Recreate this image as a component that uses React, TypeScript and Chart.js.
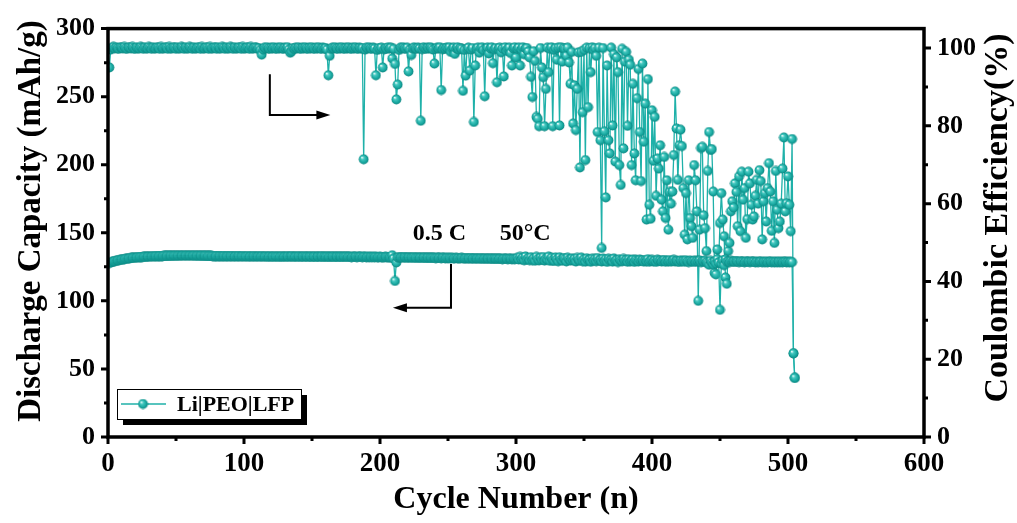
import React, { useEffect, useRef } from "react";
import { Chart, registerables } from "chart.js";

Chart.register(...registerables);

// ---------- data ----------
const capacity: number[] = [
  127.8, 128.2, 128.6, 128.9, 129.2, 129.4, 129.7, 129.9, 130.1, 130.3,
  130.5, 130.7, 130.9, 131.0, 131.2, 131.3, 131.5, 131.6, 131.7, 131.8,
  131.9, 132.0, 132.1, 132.2, 132.2, 132.3, 132.4, 132.4, 132.5, 132.5,
  132.6, 132.6, 132.7, 132.7, 132.8, 132.8, 132.8, 132.9, 132.9, 132.9,
  133.0, 133.0, 133.0, 133.1, 133.1, 133.1, 133.1, 133.2, 133.2, 133.2,
  133.2, 133.2, 133.3, 133.3, 133.3, 133.3, 133.3, 133.3, 133.3, 133.3,
  133.3, 133.3, 133.3, 133.2, 133.2, 133.2, 133.2, 133.2, 133.1, 133.1,
  133.1, 133.1, 133.0, 133.0, 133.0, 133.0, 132.9, 132.9, 132.9, 132.9,
  132.8, 132.9, 132.7, 132.8, 132.9, 132.7, 132.8, 132.8, 132.7, 132.9,
  132.7, 132.8, 132.6, 132.8, 132.7, 132.9, 132.6, 132.7, 132.8, 132.6,
  132.7, 132.6, 132.8, 132.5, 132.7, 132.6, 132.8, 132.5, 132.7, 132.6,
  132.7, 132.5, 132.8, 132.6, 132.5, 132.7, 132.6, 132.4, 132.7, 132.5,
  132.6, 132.4, 132.7, 132.5, 132.6, 132.4, 132.5, 132.7, 132.4, 132.6,
  132.5, 132.7, 132.4, 132.6, 132.8, 132.5, 132.4, 132.6, 132.5, 132.7,
  132.4, 132.5, 132.6, 132.4, 132.7, 132.5, 132.4, 132.6, 132.5, 132.3,
  132.6, 132.5, 132.3, 132.6, 132.4, 132.5, 132.7, 132.3, 132.5, 132.4,
  132.6, 132.4, 132.3, 132.5, 132.6, 132.3, 132.4, 132.5, 132.3, 132.6,
  132.4, 132.3, 132.5, 132.4, 132.6, 132.3, 132.4, 132.5, 132.2, 132.4,
  132.3, 132.5, 132.2, 132.4, 132.3, 132.5, 132.2, 132.4, 132.3, 132.1,
  132.4, 132.2, 132.3, 132.1, 132.4, 132.2, 132.3, 132.1, 132.2, 132.3,
  132.1, 132.2, 132.0, 132.3, 132.1, 132.2, 132.0, 132.1, 133.5, 131.0,
  114.6, 128.2, 131.8, 132.1, 131.9, 132.0, 131.8, 132.1, 131.9, 131.7,
  132.0, 131.8, 131.9, 131.7, 132.0, 131.8, 131.6, 131.9, 131.7, 131.8,
  131.6, 131.9, 131.7, 131.5, 131.8, 131.6, 131.7, 131.5, 131.8, 131.6,
  131.4, 131.7, 131.5, 131.6, 131.4, 131.7, 131.5, 131.3, 131.6, 131.4,
  131.5, 131.3, 131.6, 131.4, 131.2, 131.5, 131.3, 131.4, 131.2, 131.5,
  131.3, 131.1, 131.4, 131.2, 131.3, 131.1, 131.4, 131.2, 131.0, 131.3,
  131.1, 131.2, 131.0, 131.3, 131.1, 130.9, 131.2, 131.0, 131.1, 130.9,
  131.2, 131.0, 130.8, 131.1, 130.9, 131.0, 130.8, 131.1, 130.9, 130.7,
  131.0, 130.8, 130.9, 130.7, 131.0, 130.8, 130.6, 130.9, 130.7, 130.8,
  131.5, 130.4, 132.3, 130.6, 131.9, 129.8, 132.6, 130.2, 131.4, 129.9,
  132.1, 130.0, 131.3, 129.5, 132.4, 130.6, 129.7, 131.8, 130.1, 132.2,
  129.6, 131.0, 130.3, 132.5, 129.4, 131.6, 130.0, 129.3, 131.9, 130.5,
  129.1, 132.0, 130.2, 129.5, 131.4, 130.8, 129.0, 131.7, 130.3, 129.6,
  131.2, 129.8, 130.9, 128.9, 131.5, 130.1, 129.4, 131.8, 129.2, 130.6,
  128.8, 131.3, 129.9, 130.4, 128.7, 131.0, 129.5, 130.8, 129.1, 131.4,
  129.6, 130.2, 128.9, 131.1, 129.3, 130.7, 128.6, 130.9, 129.8, 130.3,
  128.8, 131.2, 129.4, 130.0, 128.5, 130.6, 129.7, 129.1, 130.8, 129.3,
  130.1, 128.7, 130.5, 129.0, 129.8, 130.4, 128.6, 130.2, 129.5, 128.9,
  130.3, 129.4, 130.0, 128.8, 129.9, 129.2, 130.6, 128.7, 129.6, 130.1,
  129.0, 129.7, 128.6, 130.2, 129.3, 129.8, 128.9, 129.5, 130.0, 128.7,
  129.6, 129.1, 129.9, 128.8, 129.4, 130.1, 128.9, 129.5, 129.2, 128.6,
  129.7, 129.0, 129.4, 128.7, 129.8, 129.1, 128.5, 129.6, 129.2, 128.8,
  129.5, 128.6, 129.3, 128.9, 129.7, 128.4, 129.2, 128.8, 129.5, 128.5,
  127.8, 126.5, 129.4, 128.0, 126.8, 129.0, 127.5, 130.6, 128.2, 93.4,
  127.4, 129.8, 126.2, 130.4, 128.6, 129.1, 128.5, 129.3, 128.8, 129.0,
  128.6, 129.2, 128.9, 128.5, 129.1, 128.7, 128.9, 128.4, 129.0, 128.6,
  128.8, 128.5, 129.0, 128.6, 128.9, 128.3, 128.8, 128.5, 128.7, 128.9,
  128.4, 128.7, 128.5, 128.8, 128.3, 128.6, 128.9, 128.4, 128.7, 128.5,
  128.6, 128.3, 128.8, 128.5, 128.7, 128.4, 128.6, 128.8, 128.3, 128.6,
  128.4, 128.7, 128.5, 61.5, 43.5,
];

const efficiency: number[] = [
  95.0, 99.6, 100.1, 100.3, 99.9, 100.2, 100.0, 99.8, 100.2, 100.1,
  99.9, 100.3, 100.0, 99.8, 100.2, 100.1, 99.9, 100.3, 100.0, 99.8,
  100.2, 100.0, 99.9, 100.3, 100.1, 99.8, 100.2, 100.0, 99.9, 100.3,
  100.1, 99.8, 100.2, 100.0, 99.9, 100.2, 100.1, 99.8, 100.3, 100.0,
  99.9, 100.2, 100.1, 99.8, 100.3, 100.0, 99.9, 100.2, 100.1, 99.8,
  100.2, 100.0, 99.9, 100.3, 100.1, 99.8, 100.2, 100.0, 99.9, 100.3,
  100.1, 99.8, 100.2, 100.0, 99.9, 100.2, 100.1, 99.8, 100.3, 100.0,
  99.9, 100.2, 100.1, 99.8, 100.3, 100.0, 99.9, 100.2, 100.1, 99.8,
  100.2, 100.0, 99.9, 100.3, 100.1, 99.8, 100.2, 100.0, 99.9, 100.3,
  100.1, 99.8, 100.2, 100.0, 99.9, 100.2, 100.1, 99.8, 100.3, 100.0,
  99.9, 100.2, 100.1, 99.8, 100.3, 100.0, 99.9, 100.2, 100.1, 99.8,
  100.0, 99.5, 98.3, 99.6, 100.1, 99.9, 100.2, 100.0, 99.8, 100.1,
  99.9, 100.2, 100.0, 99.8, 100.1, 99.9, 100.2, 100.0, 99.8, 100.1,
  99.9, 100.2, 99.6, 98.8, 99.2, 100.0, 99.8, 100.1, 99.9, 100.2,
  100.0, 99.8, 100.1, 99.9, 100.2, 100.0, 99.8, 100.1, 99.9, 100.2,
  100.0, 99.8, 100.1, 99.9, 100.2, 100.0, 99.8, 100.1, 99.9, 100.0,
  99.6, 93.0, 98.0, 99.8, 100.1, 99.9, 100.2, 100.0, 99.8, 100.1,
  99.9, 100.2, 100.0, 99.8, 100.1, 99.9, 100.2, 100.0, 99.8, 100.1,
  99.9, 100.2, 100.0, 99.8, 100.1, 99.9, 100.0, 71.4, 99.6, 100.1,
  99.9, 100.2, 100.0, 99.8, 100.1, 99.9, 93.0, 99.5, 100.0, 99.8,
  100.1, 95.0, 99.7, 100.0, 99.8, 100.2, 99.9, 100.1, 97.3, 99.8,
  95.9, 86.8, 90.6, 99.5, 100.1, 99.9, 100.2, 100.0, 99.8, 100.1,
  94.0, 99.6, 98.2, 99.9, 100.2, 100.0, 99.8, 100.1, 99.9, 81.3,
  99.7, 100.2, 100.0, 99.8, 100.1, 99.9, 100.2, 100.0, 99.6, 96.0,
  99.8, 100.1, 99.9, 100.2, 89.2, 99.7, 100.0, 99.8, 100.1, 99.9,
  100.2, 99.0, 99.8, 100.1, 98.5, 99.9, 100.2, 99.6, 100.0, 99.8,
  89.0, 99.5, 92.9, 99.8, 100.1, 94.2, 99.6, 100.0, 81.0, 95.5,
  99.8, 100.1, 98.8, 99.9, 100.2, 99.5, 87.6, 99.8, 100.1, 98.6,
  99.9, 100.2, 96.1, 99.7, 100.0, 91.2, 99.8, 100.1, 98.9, 99.9,
  92.7, 100.2, 99.3, 99.8, 100.1, 98.7, 95.5, 99.9, 100.2, 97.6,
  99.8, 100.1, 95.5, 99.6, 100.2, 98.4, 99.9, 100.0, 99.1, 97.6,
  92.6, 87.4, 99.2, 96.7, 82.3, 81.8, 79.9, 100.0, 95.0, 92.5,
  79.9, 89.5, 100.1, 93.8, 99.8, 100.2, 79.9, 99.5, 100.0, 97.0,
  100.1, 80.1, 100.2, 96.5, 100.0, 99.8, 98.0, 100.1, 96.3, 90.8,
  99.0, 80.6, 90.4, 78.9, 89.5, 98.9, 69.3, 99.0, 83.5, 99.5,
  71.2, 100.1, 84.8, 100.0, 93.8, 100.2, 99.5, 100.0, 98.0, 78.4,
  100.1, 76.3, 48.6, 100.0, 78.6, 61.6, 95.5, 76.3, 72.9, 100.1,
  80.1, 98.4, 70.8, 97.6, 93.8, 69.9, 64.8, 99.8, 74.2, 96.5,
  99.0, 80.0, 97.0, 95.7, 69.9, 90.8, 72.9, 66.0, 87.1, 94.6,
  78.4, 65.8, 96.0, 75.9, 85.7, 55.9, 92.0, 59.7, 56.1, 84.0,
  71.0, 82.3, 62.0, 71.6, 69.0, 75.0, 61.0, 58.0, 72.0, 56.3,
  66.0, 53.3, 63.0, 60.0, 63.1, 72.5, 88.8, 79.3, 66.1, 75.0,
  79.0, 74.8, 64.0, 52.0, 62.7, 50.8, 66.0, 56.3, 54.2, 51.2,
  69.9, 66.0, 58.0, 35.0, 53.3, 74.3, 74.6, 57.0, 53.7, 47.8,
  68.4, 78.4, 73.8, 74.0, 63.1, 42.2, 41.8, 48.2, 45.0, 55.0,
  62.7, 55.9, 51.6, 41.0, 39.4, 47.8, 49.9, 58.0, 60.6, 59.0,
  65.2, 63.0, 54.2, 67.0, 52.9, 68.2, 61.0, 64.0, 51.2, 56.0,
  68.2, 65.2, 59.7, 55.9, 56.7, 62.0, 66.1, 60.0, 68.6, 65.8,
  50.8, 60.6, 62.7, 55.4, 64.0, 70.4, 63.1, 53.0, 60.6, 49.9,
  68.4, 58.4, 53.7, 55.4, 60.0, 69.0, 77.0, 58.0, 60.1, 67.0,
  59.7, 52.9, 76.6, 21.5, 15.2,
];

const cycles: number[] = capacity.map((_, i) => i + 1);

const xTicks = [0, 100, 200, 300, 400, 500, 600];
const xMinorTicks = [50, 150, 250, 350, 450, 550];
const leftTicks = [0, 50, 100, 150, 200, 250, 300];
const leftMinorTicks = [25, 75, 125, 175, 225, 275];
const rightTicks = [0, 20, 40, 60, 80, 100];
const rightMinorTicks = [10, 30, 50, 70, 90];

const seriesLabel = "Li|PEO|LFP";
const xTitle = "Cycle Number (n)";
const leftTitle = "Discharge Capacity (mAh/g)";
const rightTitle = "Coulombic Efficiency(%)";
const rateNote = "0.5 C";
const tempNote = "50°C";

const FONT = '"Liberation Serif", "Times New Roman", serif';
const TEAL = "#1FB1A9";

function makeBall(r: number): HTMLCanvasElement {
  const c = document.createElement("canvas");
  const s = Math.ceil(r * 2) + 1;
  c.width = s;
  c.height = s;
  const g = c.getContext("2d")!;
  const cx = s / 2;
  const cy = s / 2;
  const grad = g.createRadialGradient(cx - r * 0.35, cy - r * 0.4, r * 0.05, cx, cy, r);
  grad.addColorStop(0, "#F2FFFE");
  grad.addColorStop(0.3, "#45C8C0");
  grad.addColorStop(0.75, "#17A79F");
  grad.addColorStop(1, "#0B8580");
  g.fillStyle = grad;
  g.beginPath();
  g.arc(cx, cy, r, 0, Math.PI * 2);
  g.fill();
  return c;
}

const decorations = {
  id: "decorations",
  afterDraw(chart: any) {
    const ctx: CanvasRenderingContext2D = chart.ctx;
    const { left, right, top, bottom } = chart.chartArea;
    const xs = chart.scales.x;
    const ys = chart.scales.y;
    const y1 = chart.scales.y1;
    ctx.save();
    ctx.strokeStyle = "#000";
    ctx.fillStyle = "#000";

    // frame
    ctx.lineWidth = 3.5;
    ctx.strokeRect(left, top, right - left, bottom - top);

    // ticks
    const major = 7;
    const minor = 4;
    ctx.lineWidth = 3;
    ctx.beginPath();
    xTicks.forEach((v) => {
      const px = xs.getPixelForValue(v);
      ctx.moveTo(px, bottom);
      ctx.lineTo(px, bottom + major);
    });
    xMinorTicks.forEach((v) => {
      const px = xs.getPixelForValue(v);
      ctx.moveTo(px, bottom);
      ctx.lineTo(px, bottom + minor);
    });
    leftTicks.forEach((v) => {
      const py = ys.getPixelForValue(v);
      ctx.moveTo(left, py);
      ctx.lineTo(left - major, py);
    });
    leftMinorTicks.forEach((v) => {
      const py = ys.getPixelForValue(v);
      ctx.moveTo(left, py);
      ctx.lineTo(left - minor, py);
    });
    rightTicks.forEach((v) => {
      const py = y1.getPixelForValue(v);
      ctx.moveTo(right, py);
      ctx.lineTo(right + major, py);
    });
    rightMinorTicks.forEach((v) => {
      const py = y1.getPixelForValue(v);
      ctx.moveTo(right, py);
      ctx.lineTo(right + minor, py);
    });
    ctx.stroke();

    // axis titles
    ctx.textAlign = "center";
    ctx.textBaseline = "middle";
    ctx.font = `bold 32px ${FONT}`;
    ctx.fillText(xTitle, (left + right) / 2, 500);
    ctx.save();
    ctx.translate(31, 221);
    ctx.rotate(-Math.PI / 2);
    ctx.font = `bold 33px ${FONT}`;
    ctx.fillText(leftTitle, 0, 0);
    ctx.restore();
    ctx.save();
    ctx.translate(998, 218);
    ctx.rotate(-Math.PI / 2);
    ctx.font = `bold 34px ${FONT}`;
    ctx.fillText(rightTitle, 0, 0);
    ctx.restore();

    // notes
    ctx.font = `bold 24px ${FONT}`;
    ctx.textAlign = "left";
    ctx.fillText(rateNote, xs.getPixelForValue(224), ys.getPixelForValue(149));
    ctx.fillText(tempNote, xs.getPixelForValue(288), ys.getPixelForValue(149));

    // arrows
    const arrow = (pts: number[][], dir: number) => {
      ctx.lineWidth = 2;
      ctx.beginPath();
      ctx.moveTo(pts[0][0], pts[0][1]);
      ctx.lineTo(pts[1][0], pts[1][1]);
      ctx.lineTo(pts[2][0] - dir * 10, pts[2][1]);
      ctx.stroke();
      ctx.beginPath();
      ctx.moveTo(pts[2][0], pts[2][1]);
      ctx.lineTo(pts[2][0] - dir * 14, pts[2][1] - 4.5);
      ctx.lineTo(pts[2][0] - dir * 14, pts[2][1] + 4.5);
      ctx.closePath();
      ctx.fill();
    };
    arrow(
      [
        [xs.getPixelForValue(119), ys.getPixelForValue(266.5)],
        [xs.getPixelForValue(119), ys.getPixelForValue(236.5)],
        [xs.getPixelForValue(163.5), ys.getPixelForValue(236.5)],
      ],
      1
    );
    arrow(
      [
        [xs.getPixelForValue(252.2), ys.getPixelForValue(127)],
        [xs.getPixelForValue(252.2), ys.getPixelForValue(95)],
        [xs.getPixelForValue(209.5), ys.getPixelForValue(95)],
      ],
      -1
    );

    // legend
    const lx = left + 9;
    const ly = bottom - 48;
    const lw = 184;
    const lh = 30;
    ctx.fillStyle = "#000";
    ctx.fillRect(lx + 6, ly + 6, lw, lh);
    ctx.fillStyle = "#fff";
    ctx.fillRect(lx, ly, lw, lh);
    ctx.lineWidth = 1;
    ctx.strokeStyle = "#000";
    ctx.strokeRect(lx + 0.5, ly + 0.5, lw, lh);
    const midY = ly + lh / 2;
    ctx.strokeStyle = TEAL;
    ctx.lineWidth = 1.5;
    ctx.beginPath();
    ctx.moveTo(lx + 4, midY);
    ctx.lineTo(lx + 49, midY);
    ctx.stroke();
    const ball = chart.data.datasets[0].pointStyle as HTMLCanvasElement;
    ctx.drawImage(ball, lx + 26 - ball.width / 2, midY - ball.height / 2);
    ctx.fillStyle = "#000";
    ctx.font = `bold 22px ${FONT}`;
    ctx.textAlign = "left";
    ctx.textBaseline = "middle";
    ctx.fillText(seriesLabel, lx + 60, midY + 1);

    ctx.restore();
  },
};

export default function App() {
  const ref = useRef<HTMLCanvasElement | null>(null);

  useEffect(() => {
    if (!ref.current) return;
    const ball = makeBall(4.9);
    const tickFont = { family: FONT, weight: "bold" as const, size: 26 };
    const chart = new Chart(ref.current, {
      type: "line",
      data: {
        datasets: [
          {
            label: seriesLabel,
            data: cycles.map((c, i) => ({ x: c, y: capacity[i] })),
            yAxisID: "y",
            borderColor: TEAL,
            borderWidth: 1.3,
            pointStyle: ball as any,
            pointRadius: 4.9,
            backgroundColor: TEAL,
          },
          {
            label: seriesLabel + " CE",
            data: cycles.map((c, i) => ({ x: c, y: efficiency[i] })),
            yAxisID: "y1",
            borderColor: TEAL,
            borderWidth: 1.3,
            pointStyle: ball as any,
            pointRadius: 4.9,
            backgroundColor: TEAL,
          },
        ],
      },
      options: {
        animation: false,
        responsive: false,
        devicePixelRatio: 1,
        events: [],
        layout: { padding: { top: 26, left: 0, right: 0, bottom: 0 } },
        plugins: { legend: { display: false }, tooltip: { enabled: false } },
        scales: {
          x: {
            type: "linear",
            min: 0,
            max: 600,
            afterBuildTicks: (s: any) => {
              s.ticks = xTicks.map((v) => ({ value: v }));
            },
            ticks: { color: "#000", font: { ...tickFont, size: 27 }, padding: 11, maxRotation: 0 },
            grid: { display: false, drawTicks: false },
            border: { display: false },
            afterFit: (s: any) => {
              s.height = 86;
            },
          },
          y: {
            type: "linear",
            position: "left",
            min: 0,
            max: 300,
            afterBuildTicks: (s: any) => {
              s.ticks = leftTicks.map((v) => ({ value: v }));
            },
            ticks: { color: "#000", font: tickFont, padding: 13 },
            grid: { display: false, drawTicks: false },
            border: { display: false },
            afterFit: (s: any) => {
              s.width = 108;
            },
          },
          y1: {
            type: "linear",
            position: "right",
            min: 0,
            max: 105,
            afterBuildTicks: (s: any) => {
              s.ticks = rightTicks.map((v) => ({ value: v }));
            },
            ticks: { color: "#000", font: tickFont, padding: 13 },
            grid: { display: false, drawTicks: false },
            border: { display: false },
            afterFit: (s: any) => {
              s.width = 93;
            },
          },
        },
      },
      plugins: [decorations],
    });
    return () => chart.destroy();
  }, []);

  return (
    <div style={{ position: "absolute", left: 0, top: 0, width: 1017, height: 523, background: "#fff" }}>
      <canvas ref={ref} width={1017} height={523} />
    </div>
  );
}
